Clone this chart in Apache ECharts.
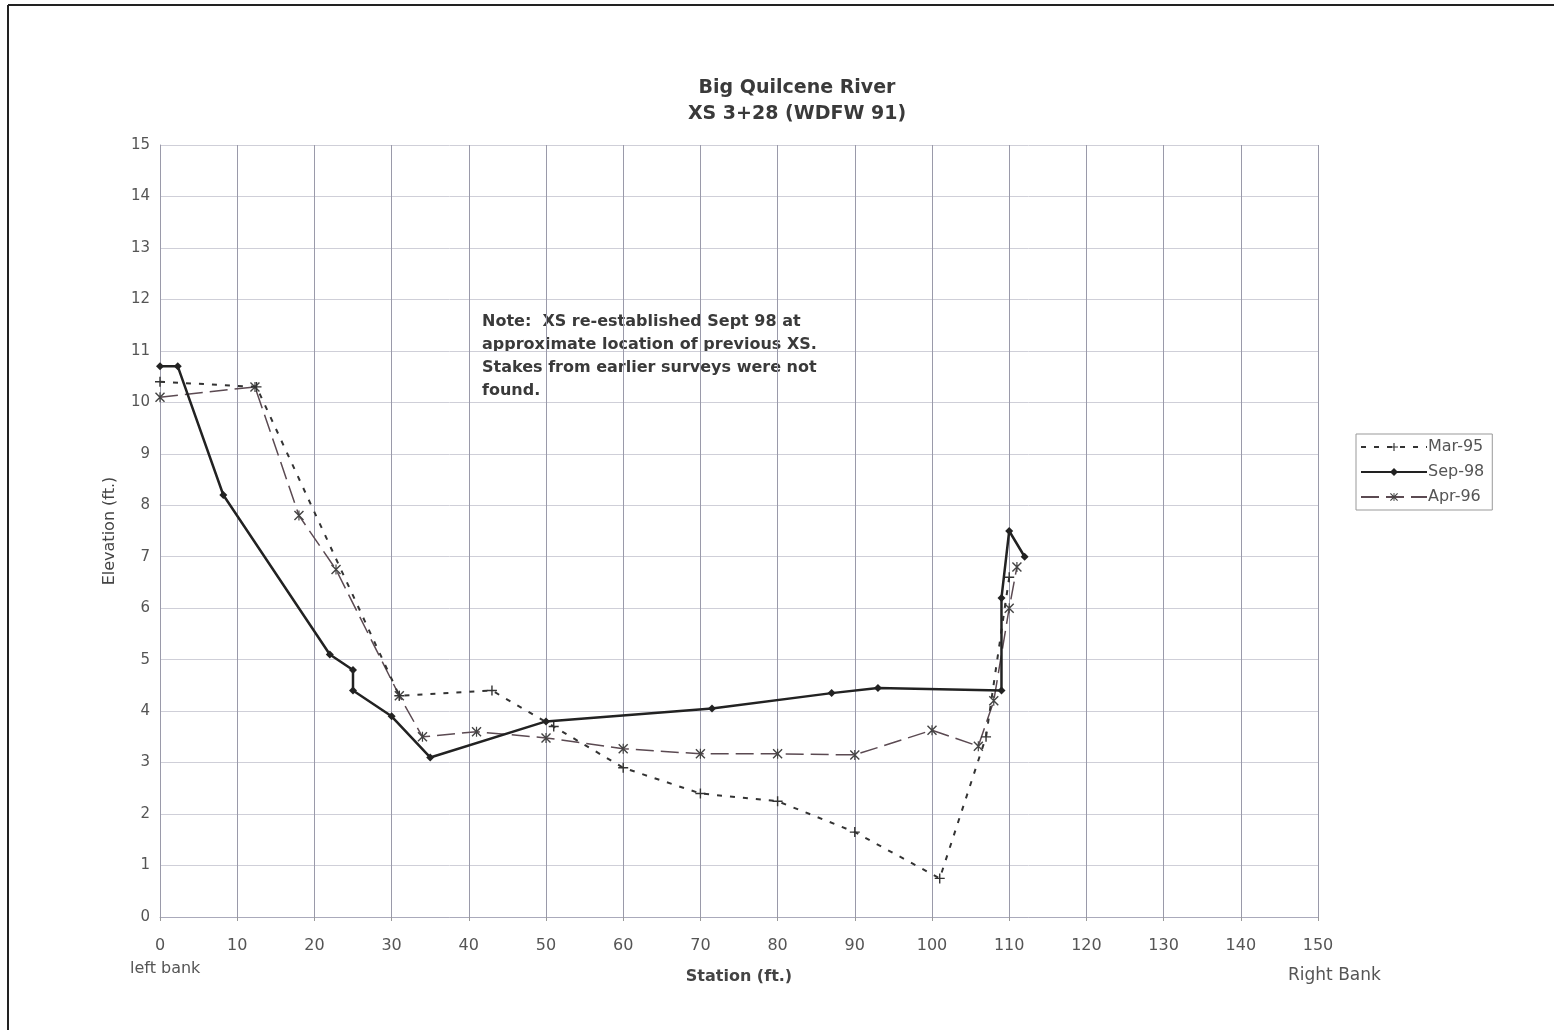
<!DOCTYPE html>
<html>
<head>
<meta charset="utf-8">
<script src="https://cdn.jsdelivr.net/npm/echarts@6/dist/echarts.min.js"></script>
<style>
html,body{margin:0;padding:0;background:#fff;}
#chart{width:1554px;height:1030px;}
</style>
</head>
<body>
<div id="chart"></div>
<script>
// Data
var mar95X = [0, 12.5, 31, 43, 51, 60, 70, 80, 90, 101, 107, 110];
var mar95Y = [10.4, 10.3, 4.3, 4.4, 3.7, 2.9, 2.4, 2.25, 1.65, 0.75, 3.5, 6.6];
var sep98X = [0, 2.3, 8.2, 22, 25, 25, 30, 35, 50, 71.5, 87, 93, 109, 109, 110, 112];
var sep98Y = [10.7, 10.7, 8.2, 5.1, 4.8, 4.4, 3.9, 3.1, 3.8, 4.05, 4.35, 4.45, 4.4, 6.2, 7.5, 7.0];
var apr96X = [0, 12.3, 18, 22.8, 31, 34, 41, 50, 60, 70, 80, 90, 100, 106, 108, 110, 111];
var apr96Y = [10.1, 10.3, 7.8, 6.75, 4.3, 3.5, 3.6, 3.48, 3.27, 3.17, 3.17, 3.15, 3.63, 3.32, 4.2, 6.0, 6.8];
var seriesNames = ['Mar-95', 'Sep-98', 'Apr-96'];
var titleLines = ['Big Quilcene River', 'XS 3+28 (WDFW 91)'];
var noteLines = ['Note:  XS re-established Sept 98 at', 'approximate location of previous XS.', 'Stakes from earlier surveys were not', 'found.'];

function pairs(xs, ys) { return xs.map(function (x, i) { return [x, ys[i]]; }); }

var plusPath = 'path://M4.3,0h1.4v10h-1.4z M0,4.3h10v1.4h-10z';
var starPath = 'path://M4.4,0h1.2v10h-1.2z M0,1 L1,0 L10,9 L9,10 Z M9,0 L10,1 L1,10 L0,9 Z';
var FONT = 'DejaVu Sans, Liberation Sans, sans-serif';

var chart = echarts.init(document.getElementById('chart'));
chart.setOption({
  backgroundColor: '#fff',
  animation: false,
  title: {
    text: titleLines.join('\n'),
    left: 792, top: 70, textAlign: 'center',
    textStyle: { fontFamily: FONT, fontSize: 19, fontWeight: 'bold', color: '#3a3a3a', lineHeight: 26 }
  },
  legend: {
    orient: 'vertical', left: 1356, top: 434,
    itemWidth: 66, itemHeight: 10, itemGap: 9,
    padding: [5, 8, 5, 4],
    borderColor: '#999', borderWidth: 1,
    textStyle: { fontFamily: FONT, fontSize: 16, color: '#555', padding: [0, 0, 0, -4] },
    data: seriesNames
  },
  grid: { left: 160, right: 236, top: 145, bottom: 113 },
  xAxis: {
    type: 'value', min: 0, max: 150, interval: 10,
    name: 'Station (ft.)', nameLocation: 'middle', nameGap: 52,
    nameTextStyle: { fontFamily: FONT, fontSize: 16, fontWeight: 'bold', color: '#444' },
    axisLine: { show: true, lineStyle: { color: '#aab', width: 1 } },
    axisTick: { show: true, length: 4, lineStyle: { color: '#999' } },
    axisLabel: { fontFamily: FONT, fontSize: 16, color: '#555', margin: 21 },
    splitLine: { show: true, lineStyle: { color: '#9a9aaa', width: 1 } }
  },
  yAxis: {
    type: 'value', min: 0, max: 15, interval: 1,
    name: 'Elevation (ft.)', nameLocation: 'middle', nameGap: 42,
    nameTextStyle: { fontFamily: FONT, fontSize: 16, color: '#444' },
    axisLine: { show: true, lineStyle: { color: '#9a9aaa', width: 1 } },
    axisTick: { show: false },
    axisLabel: { fontFamily: FONT, fontSize: 15, color: '#555', margin: 10 },
    splitLine: { show: true, lineStyle: { color: '#cfcfd8', width: 1 } }
  },
  graphic: [
    { type: 'line', shape: { x1: 8, y1: 5, x2: 8, y2: 1030 }, style: { stroke: '#222', lineWidth: 2 } },
    { type: 'line', shape: { x1: 8, y1: 5, x2: 1554, y2: 5 }, style: { stroke: '#222', lineWidth: 2 } },
    { type: 'text', left: 130, top: 961, style: { text: 'left bank', font: '16px ' + FONT, fill: '#555' } },
    { type: 'text', left: 1288, top: 967, style: { text: 'Right Bank', font: '17px ' + FONT, fill: '#555' } },
    { type: 'text', left: 482, top: 310, style: { text: noteLines.join('\n'), font: 'bold 16px ' + FONT, fill: '#3a3a3a', lineHeight: 23 } }
  ],
  series: [
    {
      name: seriesNames[0], type: 'line', data: pairs(mar95X, mar95Y),
      symbol: plusPath, symbolSize: 10, showAllSymbol: true,
      lineStyle: { color: '#333', width: 2, type: [5, 8] },
      itemStyle: { color: '#333' }, z: 3
    },
    {
      name: seriesNames[1], type: 'line', data: pairs(sep98X, sep98Y),
      symbol: 'diamond', symbolSize: 8, showAllSymbol: true,
      lineStyle: { color: '#222', width: 2.5, type: 'solid' },
      itemStyle: { color: '#222' }, z: 4
    },
    {
      name: seriesNames[2], type: 'line', data: pairs(apr96X, apr96Y),
      symbol: starPath, symbolSize: 10, showAllSymbol: true,
      lineStyle: { color: '#5b4a52', width: 1.5, type: [18, 7] },
      itemStyle: { color: '#444' }, z: 2
    }
  ]
});
</script>
</body>
</html>
